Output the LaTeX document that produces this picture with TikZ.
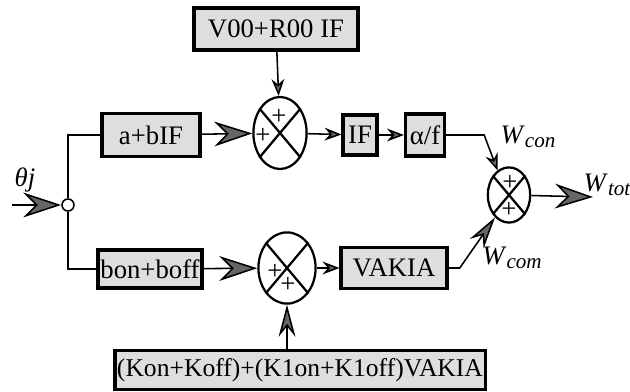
\documentclass[tikz,border=0pt]{standalone}
\usepackage{fontspec}
\setmainfont{Liberation Serif}
\usetikzlibrary{shapes.geometric, arrows.meta, positioning}

\newcommand{\wsub}[1]{\textit{W}\raisebox{-0.35ex}{\fontsize{15}{15}\selectfont\itshape #1}}

\begin{document}
\begin{tikzpicture}[x=0.025cm, y=-0.025cm, line width=1.1pt,
    block/.style={draw, line width=2.2pt, fill=black!13, inner sep=0pt,
      font=\fontsize{19}{21}\selectfont},
    summer/.style={draw, ellipse, line width=1.6pt, inner sep=0pt},
    bigtip/.style={-{Stealth[length=0.95cm, width=0.62cm, fill=black!60]}},
    midtip/.style={-{Stealth[length=0.8cm, width=0.42cm, fill=black!60]}},
    smalltip/.style={-{Stealth[length=0.42cm, width=0.32cm, fill=black!60]}},
    plus/.style={font=\fontsize{19}{19}\selectfont, inner sep=0pt},
    lbl/.style={font=\fontsize{19}{21}\selectfont, inner sep=0pt}]

  \useasboundingbox (0,0) rectangle (630,392);

  % blocks of the upper and lower branch
  \node[block, minimum width=4.1cm, minimum height=1.05cm]
    (vr) at (276,29)  {V00+R00 IF};
  \node[block, minimum width=2.45cm, minimum height=1.06cm]
    (ab) at (151,135) {a+bIF};
  \node[block, minimum width=0.85cm, minimum height=1cm]
    (if) at (360,135) {IF};
  \node[block, minimum width=0.98cm, minimum height=1.05cm]
    (af) at (425,135) {α/f};
  \node[block, minimum width=2.6cm, minimum height=0.95cm]
    (bb) at (150,269) {bon+boff};
  \node[block, minimum width=2.65cm, minimum height=1.03cm]
    (va) at (394,268) {VAKIA};
  \node[block, minimum width=9.25cm, minimum height=0.98cm,
        font=\fontsize{18.2}{20}\selectfont]
    (kk) at (300,370) {(Kon+Koff)+(K1on+K1off)VAKIA};

  % summing points
  \node[summer, minimum width=1.33cm, minimum height=1.8cm]  (s1) at (280,133) {};
  \node[summer, minimum width=1.43cm, minimum height=1.78cm] (s2) at (287,268) {};
  \node[summer, minimum width=1.06cm, minimum height=1.38cm] (s3) at (509,195) {};
  \foreach \s in {s1,s2,s3}
    \draw[line width=1.6pt] (\s.50) -- (\s.230) (\s.130) -- (\s.310);

  \node[plus] (p1) at (279,117) {+};
  \node[plus] (p2) at (263,136) {+};
  \node[plus] (p3) at (275,272) {+};
  \node[plus] (p4) at (288,285) {+};
  \node[plus] (p5) at (510,183) {+};
  \node[plus] (p6) at (509,210) {+};

  % input branch point
  \node[draw, circle, minimum size=0.3cm, inner sep=0pt, fill=white] (j) at (68,205) {};
  \coordinate (in)  at (12,205);
  \coordinate (out) at (593,197);

  \draw[bigtip] (in) -- (j);
  \draw (j) |- (ab.west);
  \draw (j) |- (bb.west);
  \draw[bigtip] (ab) -- (s1);
  \draw[smalltip] (vr) -- (s1);
  \draw[smalltip] (s1) -- (if);
  \draw[smalltip] (if) -- (af);
  \draw[smalltip] (af.east) -- ++(0.95cm,0) -- (s3.115);
  \draw[bigtip] (bb) -- (s2);
  \draw[midtip] (s2 |- kk.north) -- (s2);
  \draw[smalltip] (s2) -- (va);
  \draw[midtip] (va.east) -- ++(0.28cm,0) -- (s3.238);
  \draw[bigtip] (s3) -- (out);

  % labels
  \node[lbl] (th)   at (25,180)  {\textit{θj}};
  \node[lbl] (wcon) at (528,137) {\wsub{con}};
  \node[lbl] (wtot) at (607,185) {\wsub{tot}};
  \node[lbl] (wcom) at (512,258) {\wsub{com}};

\end{tikzpicture}
\end{document}
